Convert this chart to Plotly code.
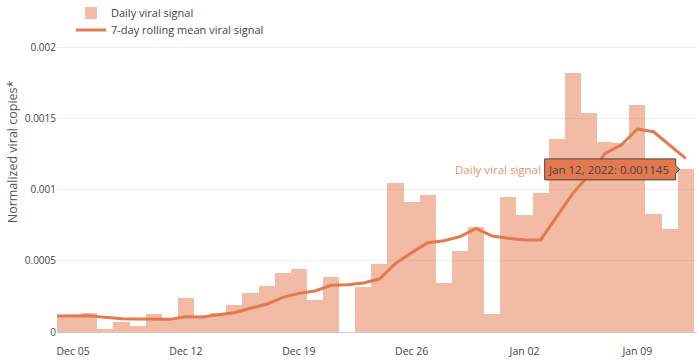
import plotly.graph_objects as go
import pandas as pd

dates = pd.date_range("2021-12-04", "2022-01-12", freq="D").strftime("%Y-%m-%d").tolist()

daily_signal = [
    0.000120, 0.000120, 0.000136, 0.000020, 0.000070, 0.000040, 0.000127, 0.000100,
    0.000237, 0.000113, 0.000136, 0.000188, 0.000277, 0.000324, 0.000418, 0.000444,
    0.000225, 0.000387, 0.000000, 0.000319, 0.000479, 0.001050, 0.000915, 0.000967,
    0.000343, 0.000568, 0.000742, 0.000127, 0.000953, 0.000824, 0.000981, 0.001360,
    0.001826, 0.001544, 0.001340, 0.001328, 0.001600, 0.000828, 0.000725, 0.001145,
]

rolling_mean = [
    0.000113, 0.000113, 0.000115, 0.000103, 0.000094, 0.000092, 0.000092, 0.000089,
    0.000108, 0.000106, 0.000122, 0.000136, 0.000167, 0.000195, 0.000244, 0.000272,
    0.000289, 0.000329, 0.000333, 0.000345, 0.000373, 0.000483, 0.000559, 0.000629,
    0.000643, 0.000671, 0.000730, 0.000676, 0.000660, 0.000648, 0.000648, 0.000812,
    0.000976, 0.001105, 0.001258, 0.001317, 0.001429, 0.001410, 0.001317, 0.001223,
]

hover_date = "2022-01-12"
hover_value = 0.001145
hover_text = "Jan 12, 2022: 0.001145"

BAR = "rgba(228,120,78,0.5)"
LINE = "#E4784E"
FONT = "Open Sans"

fig = go.Figure()
fig.add_trace(go.Bar(
    x=dates, y=daily_signal, name="Daily viral signal",
    marker=dict(color=BAR, line=dict(width=0)), legend="legend",
))
fig.add_trace(go.Scatter(
    x=dates, y=rolling_mean, name="7-day rolling mean viral signal",
    mode="lines", line=dict(color=LINE, width=3), legend="legend2",
))

# static rendition of the hover label
fig.add_shape(
    type="path", xref="x", yref="y", xsizemode="pixel", ysizemode="pixel",
    xanchor=hover_date, yanchor=hover_value,
    path="M-6,0 L-10,4 L-10,10.5 L-141,10.5 L-141,-10.5 L-10,-10.5 L-10,-4 Z",
    fillcolor=LINE, line=dict(color="#444", width=1), layer="above",
)
fig.add_annotation(
    x=hover_date, y=hover_value, xref="x", yref="y", text=hover_text,
    showarrow=False, xanchor="right", yanchor="middle", xshift=-15,
    font=dict(family=FONT, size=11.5, color="#444"),
)
fig.add_annotation(
    x=hover_date, y=hover_value, xref="x", yref="y", text="Daily viral signal",
    showarrow=False, xanchor="right", yanchor="middle", xshift=-143,
    font=dict(family=FONT, size=11.5, color="#E8906F"),
)
# y-axis title
fig.add_annotation(
    x=-0.07, y=0.612, xref="paper", yref="paper", text="Normalized viral copies*",
    showarrow=False, textangle=-90, xanchor="center", yanchor="middle",
    font=dict(family=FONT, size=12.5, color="#555"),
)

legend_common = dict(
    orientation="v", xref="container", yref="container",
    xanchor="left", yanchor="middle",
    bgcolor="rgba(0,0,0,0)", font=dict(family=FONT, size=11, color="#444"),
)

fig.update_layout(
    width=698, height=363,
    margin=dict(l=57, r=1, t=38, b=31, autoexpand=False),
    paper_bgcolor="white", plot_bgcolor="white",
    bargap=0,
    font=dict(family=FONT, size=11, color="#444"),
    showlegend=True,
    legend=dict(x=71 / 698, y=1 - 13 / 363, **legend_common),
    legend2=dict(x=71 / 698, y=1 - 30 / 363, **legend_common),
    xaxis=dict(
        type="date",
        range=["2021-12-04 00:00", "2022-01-12 16:50"],
        tick0="2021-12-05", dtick=7 * 86400000, tickformat="%b %d",
        showgrid=False, zeroline=False, showline=False,
        ticks="outside", ticklen=9, tickcolor="rgba(0,0,0,0)",
        tickfont=dict(family=FONT, size=10.5, color="#444"),
        automargin=False,
    ),
    yaxis=dict(
        range=[0, 0.00207], dtick=0.0005, tick0=0,
        showgrid=True, gridcolor="#eeeeee", gridwidth=1,
        zeroline=True, zerolinecolor="#cccccc", zerolinewidth=1,
        showline=False, automargin=False,
        tickfont=dict(family=FONT, size=10, color="#444"),
    ),
)

fig.write_html(
    "out.html",
    config={"displayModeBar": False},
    post_script="document.body.style.margin='0';",
)
